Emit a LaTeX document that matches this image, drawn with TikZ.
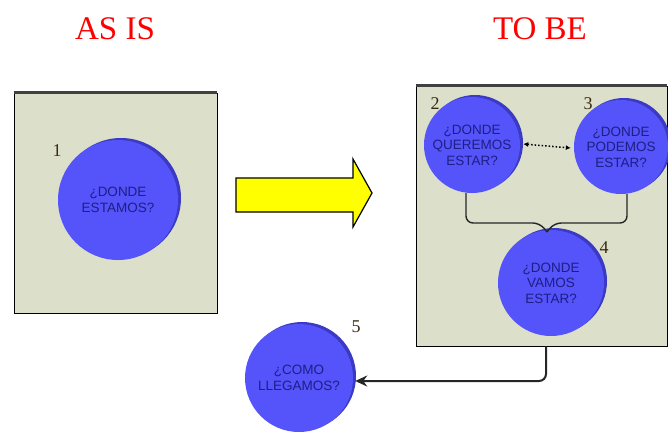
\documentclass[tikz,border=0pt]{standalone}
\usepackage{fontspec}
\setmainfont{Liberation Serif}
\setsansfont{Liberation Sans}
\usetikzlibrary{arrows.meta,shadows}

\definecolor{boxbg}{HTML}{DCDFCA}
\definecolor{ballblue}{HTML}{5454FA}
\definecolor{ballshade}{HTML}{3A3AC4}
\definecolor{balltext}{HTML}{1E1E86}
\definecolor{numcol}{HTML}{3A2A10}
\definecolor{arrowyellow}{HTML}{FFFF00}

\tikzset{
  ball/.style={circle, fill=ballblue, minimum size=#1, inner sep=0pt, align=center,
    text=balltext, font=\sffamily\fontsize{13.5}{15.5}\selectfont,
    general shadow={fill=ballshade, shadow xshift=3pt, shadow yshift=2pt}},
  stage/.style={draw=black, fill=boxbg, line width=0.9pt, inner sep=0pt},
  topedge/.style={line width=2.6pt, draw=black!75},
  num/.style={font=\fontsize{18}{18}\selectfont, text=numcol, inner sep=0pt},
  title/.style={text=red, font=\fontsize{33}{33}\selectfont, inner sep=0pt},
  link/.style={line width=1.4pt, draw=black!85},
}

\begin{document}
\begin{tikzpicture}[x=1pt, y=-1pt]
        \useasboundingbox (0,0) rectangle (668,432);

        % Titles
        \node[title] (asistitle) at (115,29) {AS IS};
        \node[title] (tobetitle) at (540,29) {TO BE};

        % Stages
        \node[stage, minimum width=203pt, minimum height=220pt] (asis) at (115.5,203) {};
        \draw[topedge] (asis.north west) -- (asis.north east);
        \node[stage, minimum width=251pt, minimum height=260pt] (tobe) at (541.5,216) {};
        \draw[topedge] (tobe.north west) -- (tobe.north east);

        % Questions
        \node[ball=120pt] (q1) at (118,200) {¿DONDE\\ESTAMOS?};
        \node[num] (n1) at (57,151) {1};

        \node[ball=96pt] (q2) at (472,145) {¿DONDE\\QUEREMOS\\ESTAR?};
        \node[num] (n2) at (435,104) {2};
        \node[ball=94pt] (q3) at (621,147) {¿DONDE\\PODEMOS\\ESTAR?};
        \node[num] (n3) at (588,104) {3};
        \node[ball=106pt] (q4) at (551,283) {¿DONDE\\VAMOS\\ESTAR?};
        \node[num] (n4) at (604,248) {4};

        \node[ball=108pt] (q5) at (299,378) {¿COMO\\LLEGAMOS?};
        \node[num] (n5) at (356,327) {5};

        % Big arrow
        \draw[fill=arrowyellow, line width=1.2pt] (236,178) -- (353,178) -- (353,159) -- (372,193)
              -- (353,227) -- (353,212) -- (236,212) -- cycle;

        % Connectors
        \draw[{Latex[length=5pt,width=5pt]}-{Latex[length=5pt,width=5pt]}, dotted, line width=1.5pt]
              ([xshift=3pt,yshift=1pt]q2.east) -- ([xshift=-3pt,yshift=-1pt]q3.west);
        \coordinate (notch) at (547,232);
        \draw[link, rounded corners=7pt] ([xshift=-6pt]q2.south) |- (540,223) -- (notch);
        \draw[link, rounded corners=7pt] ([xshift=6pt]q3.south) |- (554,223) -- (notch);
        \draw[link, line width=2pt, rounded corners=7pt, -{Stealth[length=12pt,width=11pt]}]
              ([xshift=-5pt]tobe.south -| q4.south) |- ([xshift=2pt,yshift=-3pt]q5.east);
    \end{tikzpicture}
\end{document}
